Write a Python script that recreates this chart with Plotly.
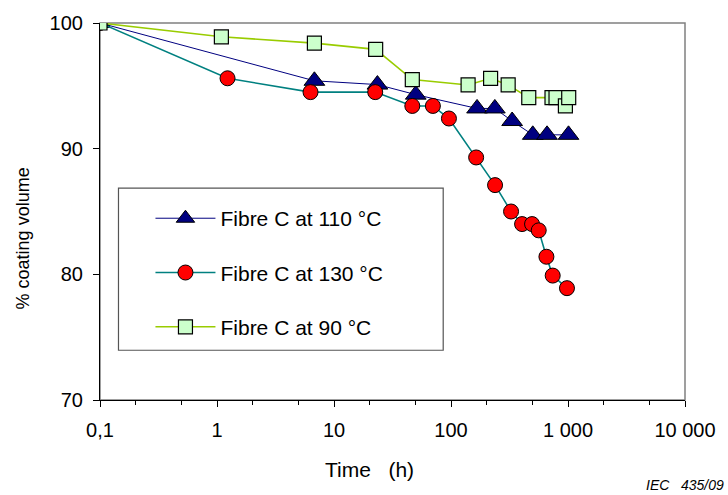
import plotly.graph_objects as go

# ---- data ----
t_110 = [0.1, 6.8, 23.5, 50, 167, 237, 333, 500, 662, 1010]
v_110 = [100, 95.4, 95.1, 94.3, 93.2, 93.2, 92.2, 91.1, 91.1, 91.1]

t_130 = [0.1, 1.23, 6.3, 22.5, 46.7, 70, 96, 164, 238, 326, 405, 493, 562, 654, 740, 980]
v_130 = [100, 95.6, 94.5, 94.5, 93.4, 93.4, 92.4, 89.3, 87.1, 85.0, 84.0, 84.0, 83.5, 81.4, 79.9, 78.9]

t_90 = [0.1, 1.09, 6.8, 22.7, 46.7, 140, 218, 308, 462, 730, 790, 950, 1014]
v_90 = [100, 98.9, 98.4, 97.9, 95.5, 95.07, 95.6, 95.07, 94.06, 94.06, 94.06, 93.4, 94.06]

x_tickvals = [0.1, 1, 10, 100, 1000, 10000]
x_ticktext = ["0,1", "1", "10", "100", "1 000", "10 000"]
y_tickvals = [70, 80, 90, 100]

names = ["Fibre C at 110 °C", "Fibre C at 130 °C", "Fibre C at 90 °C"]

FONT = "Liberation Sans, Arial, sans-serif"

fig = go.Figure()

fig.add_trace(go.Scatter(
    x=t_110, y=v_110, mode="lines+markers", name=names[0], legendgroup="a",
    line=dict(color="#000080", width=1),
    marker=dict(symbol="triangle-up", size=18, color="#000080",
                line=dict(color="#000000", width=1)),
))
fig.add_trace(go.Scatter(
    x=t_130, y=v_130, mode="lines+markers", name=names[1], legendgroup="b",
    line=dict(color="#008080", width=1.6),
    marker=dict(symbol="circle", size=15, color="#FF0000",
                line=dict(color="#000000", width=1)),
))
fig.add_trace(go.Scatter(
    x=t_90, y=v_90, mode="lines+markers", name=names[2], legendgroup="c",
    line=dict(color="#99CC00", width=1.6),
    marker=dict(symbol="square", size=14, color="#CCFFCC",
                line=dict(color="#000000", width=1.2)),
))

# plot-area geometry in pixels (for paper coords)
L, R, T, B = 100.5, 686.0, 21.0, 400.0
W, H = R - L, B - T
def px(x):
    return (x - L) / W
def py(y):
    return (B - y) / H

fig.update_layout(
    width=728, height=495,
    margin=dict(l=100, r=42, t=21, b=95),
    paper_bgcolor="white", plot_bgcolor="white",
    font=dict(family=FONT, size=20, color="#000000"),
    showlegend=True,
    legend=dict(
        x=px(151), y=py(197), xanchor="left", yanchor="top",
        bgcolor="rgba(0,0,0,0)", borderwidth=0,
        font=dict(family=FONT, size=21, color="#000000"),
        itemwidth=60, tracegroupgap=24, traceorder="grouped",
    ),
    shapes=[
        # gray plot border (top/right)
        dict(type="rect", xref="paper", yref="paper", x0=0, x1=1, y0=0, y1=1,
             line=dict(color="#808080", width=1.5), layer="below"),
        # legend box
        dict(type="rect", xref="paper", yref="paper",
             x0=px(119), x1=px(444), y0=py(350), y1=py(187),
             line=dict(color="#555555", width=1.2), fillcolor="white", layer="below"),
    ],
    annotations=[
        dict(text="Time   (h)", xref="paper", yref="paper", x=px(370), y=py(470),
             xanchor="center", yanchor="middle", showarrow=False,
             font=dict(family=FONT, size=21, color="#000000")),
        dict(text="% coating volume", xref="paper", yref="paper", x=px(23), y=py(238),
             xanchor="center", yanchor="middle", showarrow=False, textangle=-90,
             font=dict(family=FONT, size=18, color="#000000")),
        dict(text="<i>IEC   435/09</i>", xref="paper", yref="paper", x=px(727), y=py(485),
             xanchor="right", yanchor="middle", showarrow=False,
             font=dict(family=FONT, size=14, color="#000000")),
    ],
)

fig.update_xaxes(
    type="log", range=[-1, 4],
    tickvals=x_tickvals, ticktext=x_ticktext,
    ticks="outside", ticklen=6, tickwidth=1, tickcolor="#000000",
    minor=dict(ticks="outside", ticklen=4, tickwidth=1, tickcolor="#000000", showgrid=False),
    showline=True, linecolor="#000000", linewidth=1.2,
    showgrid=False, zeroline=False, ticklabelstandoff=6,
    tickfont=dict(family=FONT, size=20, color="#000000"),
)
fig.update_yaxes(
    range=[70, 100], tickvals=y_tickvals,
    ticks="outside", ticklen=6, tickwidth=1, tickcolor="#000000",
    showline=True, linecolor="#000000", linewidth=1.2,
    showgrid=False, zeroline=False, ticklabelstandoff=6,
    tickfont=dict(family=FONT, size=20, color="#000000"),
)

fig.write_html("out.html")
